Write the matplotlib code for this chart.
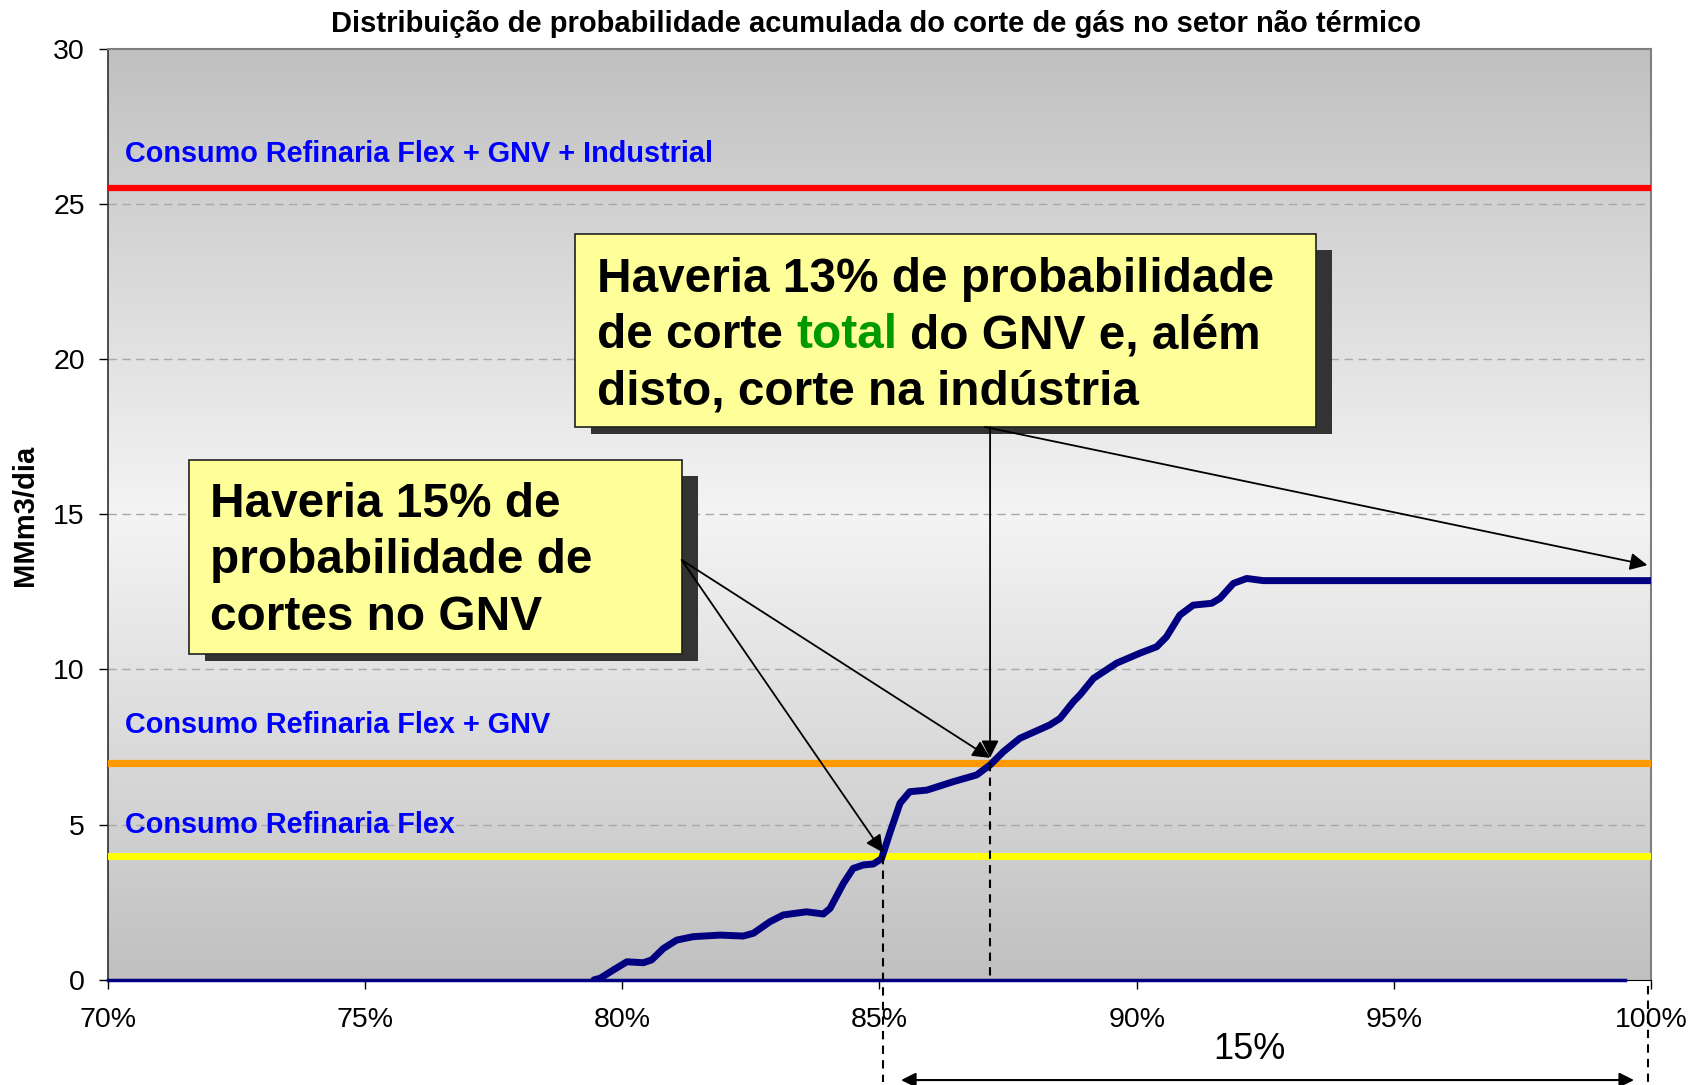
import matplotlib
matplotlib.use("Agg")
import matplotlib.pyplot as plt
from matplotlib.patches import Rectangle
import numpy as np

plt.rcParams['font.family'] = ['Liberation Sans', 'DejaVu Sans']

# data
prob = [79.45, 79.57, 79.83, 80.09, 80.41, 80.57, 80.80, 81.06, 81.38, 81.90,
        82.35, 82.55, 82.87, 83.13, 83.58, 83.91, 84.04, 84.30, 84.49, 84.69,
        84.88, 85.04, 85.20, 85.40, 85.59, 85.92, 86.43, 86.89, 87.15, 87.41,
        87.73, 88.31, 88.51, 88.77, 88.90, 89.16, 89.61, 90.06, 90.39, 90.58,
        90.84, 91.10, 91.46, 91.62, 91.88, 92.14, 92.46, 93.95, 100.0]
corte = [0.0, 0.05, 0.32, 0.58, 0.55, 0.64, 1.01, 1.28, 1.39, 1.44,
         1.41, 1.50, 1.87, 2.09, 2.19, 2.12, 2.30, 3.11, 3.59, 3.70,
         3.73, 3.90, 4.72, 5.69, 6.06, 6.11, 6.38, 6.60, 6.92, 7.35,
         7.78, 8.21, 8.42, 8.96, 9.18, 9.71, 10.20, 10.52, 10.73, 11.05,
         11.75, 12.07, 12.13, 12.29, 12.77, 12.93, 12.86, 12.86, 12.86]
zero_x = [70.0, 99.5]
zero_y = [0.0, 0.0]

consumo_labels = ["Consumo Refinaria Flex + GNV + Industrial",
                  "Consumo Refinaria Flex + GNV",
                  "Consumo Refinaria Flex"]
consumo_vals = [25.5, 7.0, 4.0]
consumo_label_y = [26.36, 7.96, 4.72]

x_ticks = [70, 75, 80, 85, 90, 95, 100]
x_ticklabels = ["70%", "75%", "80%", "85%", "90%", "95%", "100%"]
y_ticks = [0, 5, 10, 15, 20, 25, 30]

p_gnv = 85.07      # where the cut reaches 4 (GNV starts)
p_total = 87.15    # where the cut reaches 7 (total GNV)
p_total_cut = 12.86
span_label = "15%"

title = "Distribuição de probabilidade acumulada do corte de gás no setor não térmico"
box1_lines = ["Haveria 15% de", "probabilidade de", "cortes no GNV"]

W, H = 1692, 1085
fig = plt.figure(figsize=(W / 100, H / 100), dpi=100)
ax = fig.add_axes([107.9 / W, 1 - 979.8 / H, (1651 - 107.9) / W, (979.8 - 48.6) / H])


def fx(px):
    return px / W


def fy(py):
    return 1 - py / H


# background gradient gray -> light -> gray
g = np.linspace(0, 1, 400)
v = (192 + (244 - 192) * (1 - np.abs(g - 0.5) * 2)) / 255
img = np.dstack([v, v, v]).reshape(400, 1, 3)
ax.imshow(img, extent=[70, 100, 0, 30], aspect='auto', origin='lower', zorder=0)

ax.set_xlim(70, 100)
ax.set_ylim(0, 30)
ax.set_xticks(x_ticks)
ax.set_xticklabels(x_ticklabels)
ax.set_yticks(y_ticks)
ax.tick_params(axis='both', labelsize=20.5, length=6.5, width=1, direction='out')
ax.tick_params(axis='x', pad=13)
ax.tick_params(axis='y', pad=10)

for y in y_ticks[1:-1]:
    ax.axhline(y, color='#a8a8a8', lw=1, ls=(0, (6, 4)), zorder=1)

for sp in ['top', 'right']:
    ax.spines[sp].set_color('#808080')
    ax.spines[sp].set_linewidth(1.5)
ax.spines['left'].set_color('#303030')
ax.spines['left'].set_linewidth(1.2)

line_colors = ['#ff0000', '#ff9900', '#ffff00']
line_widths = [4.5, 5.2, 5.0]
for val, c, lw in zip(consumo_vals, line_colors, line_widths):
    ax.axhline(val, color=c, lw=lw, zorder=3)
for lab, ly in zip(consumo_labels, consumo_label_y):
    ax.text(70.33, ly, lab, color='#0000ff', fontsize=20.8, fontweight='bold',
            va='baseline', ha='left', zorder=4)

ax.plot(zero_x, zero_y, color='#000080', lw=2.5, zorder=4, clip_on=False)
ax.plot(prob, corte, color='#000080', lw=5, zorder=5,
        solid_joinstyle='round', solid_capstyle='round')

# dashed markers
dash = (0, (4, 3))
ax.plot([p_gnv, p_gnv], [consumo_vals[2], -3.3], color='k', lw=1.5, ls=dash,
        clip_on=False, zorder=6)
ax.plot([p_total, p_total], [consumo_vals[1], 0], color='k', lw=1.5, ls=dash,
        clip_on=False, zorder=6)
ax.plot([99.95, 99.95], [-0.2, -3.4], color='k', lw=1.5, ls=dash,
        clip_on=False, zorder=6)

ax.annotate('', xy=(85.42, -3.23), xytext=(99.67, -3.23),
            arrowprops=dict(arrowstyle='<|-|>', color='k', lw=1.5,
                            mutation_scale=22, shrinkA=0, shrinkB=0),
            annotation_clip=False)
ax.text(92.2, -2.24, span_label, fontsize=26, ha='center', va='center',
        clip_on=False)

# callout boxes with shadows
def callout(x0, y0, x1, y1):
    ax.add_patch(Rectangle((fx(x0 + 16), fy(y1 + 7)), (x1 - x0) / W, (y1 - y0 - 9) / H,
                           transform=fig.transFigure, facecolor='#333333',
                           edgecolor='none', clip_on=False, zorder=7))
    ax.add_patch(Rectangle((fx(x0), fy(y1)), (x1 - x0) / W, (y1 - y0) / H,
                           transform=fig.transFigure, facecolor='#ffff99',
                           edgecolor='#202020', lw=1.2, clip_on=False, zorder=8))


callout(188.6, 460, 681.7, 654)
callout(575, 234, 1316, 427)

arrow = dict(arrowstyle='-|>', color='k', lw=1.3, mutation_scale=26,
             shrinkA=0, shrinkB=0)
ax.annotate('', xy=(p_gnv, 4.1), xytext=(fx(681.7), fy(560)),
            textcoords='figure fraction', arrowprops=arrow, zorder=10)
ax.annotate('', xy=(p_total, 7.15), xytext=(fx(681.7), fy(560)),
            textcoords='figure fraction', arrowprops=arrow, zorder=10)
ax.annotate('', xy=(p_total, 7.15), xytext=(fx(990.1), fy(427)),
            textcoords='figure fraction', arrowprops=arrow, zorder=10)
ax.annotate('', xy=(99.93, p_total_cut + 0.5), xytext=(fx(985), fy(427)),
            textcoords='figure fraction', arrowprops=arrow, zorder=10)

bsize = 34.4
bfont = dict(fontsize=bsize, fontweight='bold', va='baseline', ha='left',
             transform=fig.transFigure, zorder=9)
for line, by in zip(box1_lines, [516.7, 573.3, 630]):
    ax.text(fx(209.5), fy(by), line, **bfont)

ax.text(fx(597), fy(291.7), "Haveria 13% de probabilidade", **bfont)
ax.text(fx(597), fy(405), "disto, corte na indústria", **bfont)
renderer = fig.canvas.get_renderer()
space = 0.278 * bsize * 100 / 72
xcur = 597
for part, col in [("de corte", 'black'), ("total", '#009900'), ("do GNV e, além", 'black')]:
    t = ax.text(fx(xcur), fy(348.3), part, color=col, **bfont)
    xcur = t.get_window_extent(renderer).x1 + space

fig.text(fx(875.5), fy(23.7), title, ha='center', va='center',
         fontsize=21, fontweight='bold')
fig.text(fx(25), fy(515), "MMm3/dia", rotation=90, ha='center', va='center',
         fontsize=21, fontweight='bold')

fig.savefig("out.png", dpi=100)
